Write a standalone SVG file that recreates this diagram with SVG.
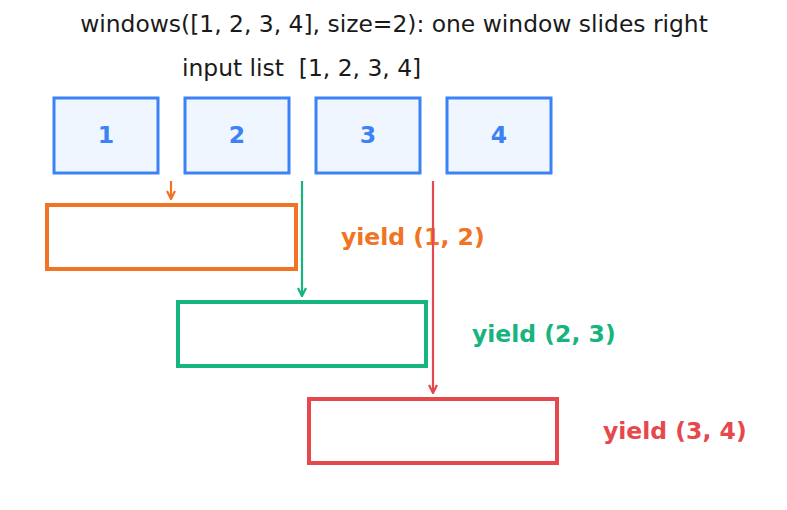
<svg xmlns="http://www.w3.org/2000/svg" width="787" height="510" viewBox="0 0 787 510">
<style>
text{font-family:"DejaVu Sans","Liberation Sans",sans-serif}
.t{font-size:23.4px;fill:#1a1a1a}
.cell rect{fill:#eff6ff;stroke:#3b82f6;stroke-width:3}
.cell text{font-size:23.5px;font-weight:bold;fill:#3b82f6;text-anchor:middle}
.win{fill:none;stroke-width:4}
.lbl{font-size:23.5px;font-weight:bold}
</style>
<defs>
<marker id="ao" viewBox="0 0 10 10" refX="9" refY="5" markerWidth="10" markerHeight="10" markerUnits="userSpaceOnUse" orient="auto"><path d="M1,1 L9,5 L1,9" fill="none" stroke="#f07424" stroke-width="2.2"/></marker>
<marker id="ag" viewBox="0 0 10 10" refX="9" refY="5" markerWidth="10" markerHeight="10" markerUnits="userSpaceOnUse" orient="auto"><path d="M1,1 L9,5 L1,9" fill="none" stroke="#16b47e" stroke-width="2.2"/></marker>
<marker id="ar" viewBox="0 0 10 10" refX="9" refY="5" markerWidth="10" markerHeight="10" markerUnits="userSpaceOnUse" orient="auto"><path d="M1,1 L9,5 L1,9" fill="none" stroke="#e5484d" stroke-width="2.2"/></marker>
</defs>
<text class="t" x="394" y="32" text-anchor="middle">windows([1, 2, 3, 4], size=2): one window slides right</text>
<text class="t" x="182" y="76" xml:space="preserve">input list  [1, 2, 3, 4]</text>
<g id="cell1" class="cell"><rect x="54" y="98" width="104" height="75"/><text x="106" y="143">1</text></g>
<g id="cell2" class="cell"><rect x="185" y="98" width="104" height="75"/><text x="237" y="143">2</text></g>
<g id="cell3" class="cell"><rect x="316" y="98" width="104" height="75"/><text x="368" y="143">3</text></g>
<g id="cell4" class="cell"><rect x="447" y="98" width="104" height="75"/><text x="499" y="143">4</text></g>
<g id="win1"><rect class="win" x="47" y="205" width="249" height="64" stroke="#f07424"/><text class="lbl" x="341" y="245" fill="#f07424">yield (1, 2)</text></g>
<g id="win2"><rect class="win" x="178" y="302" width="248" height="64" stroke="#16b47e"/><text class="lbl" x="472" y="342" fill="#16b47e">yield (2, 3)</text></g>
<g id="win3"><rect class="win" x="309" y="399" width="248" height="64" stroke="#e5484d"/><text class="lbl" x="603" y="439" fill="#e5484d">yield (3, 4)</text></g>
<g id="connectors" fill="none" stroke-width="2.2">
<line x1="171" y1="181" x2="171" y2="199" stroke="#f07424" marker-end="url(#ao)"/>
<line x1="302" y1="181" x2="302" y2="296" stroke="#16b47e" marker-end="url(#ag)"/>
<line x1="433" y1="181" x2="433" y2="393" stroke="#e5484d" marker-end="url(#ar)"/>
</g>
</svg>
